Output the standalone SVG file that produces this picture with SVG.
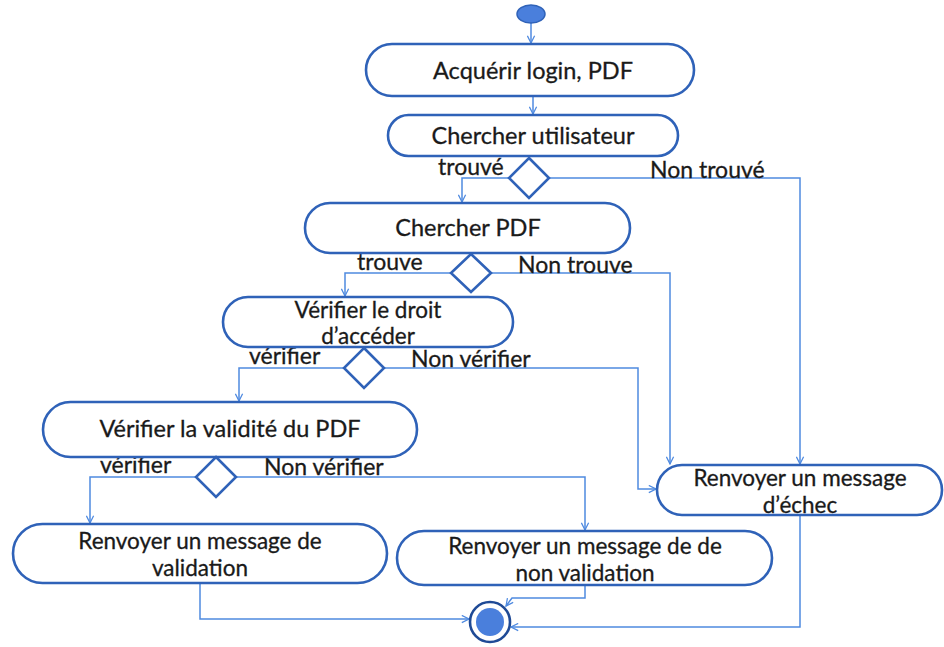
<svg xmlns="http://www.w3.org/2000/svg" width="944" height="647" viewBox="0 0 944 647">
  <style>
    .act { fill: #ffffff; stroke: #2f62b8; stroke-width: 2.6; }
    .dec { fill: #ffffff; stroke: #2f62b8; stroke-width: 2.6; }
    .lbl { font-family: Lato, "Open Sans", "Liberation Sans", sans-serif; font-size: 23.5px; fill: #1a1a1a; text-anchor: middle; stroke: #1a1a1a; stroke-width: 0.3; }
    .lbl2 { font-size: 22.5px; }
    .edge { font-family: Lato, "Open Sans", "Liberation Sans", sans-serif; font-size: 23px; fill: #1a1a1a; stroke: #1a1a1a; stroke-width: 0.3; }
    .flow { fill: none; stroke: #4f8ae0; stroke-width: 1.5; marker-end: url(#arr); }
  </style>
  <defs>
    <marker id="arr" viewBox="0 0 10 10" refX="9" refY="5" markerWidth="9" markerHeight="9" markerUnits="userSpaceOnUse" orient="auto">
      <path d="M1,1 L9,5 L1,9" fill="none" stroke="#4f8ae0" stroke-width="1.4"/>
    </marker>
  </defs>
  <rect width="944" height="647" fill="#ffffff"/>

  <!-- connectors -->
  <g id="connectors">
    <path class="flow" d="M531,23 V43"/>
    <path class="flow" d="M533,96 V114"/>
    <path class="flow" d="M509,178 H462 V202"/>
    <path class="flow" d="M549,178 H800 V464"/>
    <path class="flow" d="M451,273 H345 V296"/>
    <path class="flow" d="M491,273 H670 V464"/>
    <path class="flow" d="M344,368 H239 V401"/>
    <path class="flow" d="M384,368 H638 V489 H656"/>
    <path class="flow" d="M196,477 H90 V523"/>
    <path class="flow" d="M236,477 H585 V530"/>
    <path class="flow" d="M200,583 V619 H469"/>
    <path class="flow" d="M585,585 V598 H512 L506,606"/>
    <path class="flow" d="M800,515 V627 H511"/>
    <text class="edge" x="438" y="175">trouvé</text>
    <text class="edge" x="650" y="178">Non trouvé</text>
    <text class="edge" x="357" y="270">trouve</text>
    <text class="edge" x="518" y="273">Non trouve</text>
    <text class="edge" x="249" y="364">vérifier</text>
    <text class="edge" x="411" y="367">Non vérifier</text>
    <text class="edge" x="100" y="473">vérifier</text>
    <text class="edge" x="264" y="475">Non vérifier</text>
  </g>

  <g id="start">
    <ellipse cx="531" cy="14" rx="14" ry="9" fill="#4a7fdc" stroke="#2f62b8" stroke-width="1.5"/>
  </g>

  <g id="acquerir">
    <rect class="act" x="366" y="44" width="328" height="52" rx="26"/>
    <text class="lbl" x="533" y="79">Acquérir login, PDF</text>
  </g>

  <g id="chercher-utilisateur">
    <rect class="act" x="388" y="115" width="290" height="41" rx="20.5"/>
    <text class="lbl" x="533" y="144">Chercher utilisateur</text>
  </g>

  <g id="decision-utilisateur">
    <polygon class="dec" points="529,158 549,178 529,198 509,178"/>
  </g>

  <g id="chercher-pdf">
    <rect class="act" x="305" y="203" width="325" height="50" rx="25"/>
    <text class="lbl" x="468" y="236">Chercher PDF</text>
  </g>

  <g id="decision-pdf">
    <polygon class="dec" points="471,254 491,273 471,292 451,273"/>
  </g>

  <g id="verifier-droit">
    <rect class="act" x="223" y="297" width="290" height="50" rx="25"/>
    <text class="lbl lbl2" x="368" y="318">Vérifier le droit</text>
    <text class="lbl lbl2" x="368" y="344">d’accéder</text>
  </g>

  <g id="decision-droit">
    <polygon class="dec" points="364,348 384,368 364,388 344,368"/>
  </g>

  <g id="verifier-validite">
    <rect class="act" x="43" y="402" width="374" height="55" rx="27.5"/>
    <text class="lbl" x="230" y="437">Vérifier la validité du PDF</text>
  </g>

  <g id="decision-validite">
    <polygon class="dec" points="216,457 236,477 216,497 196,477"/>
  </g>

  <g id="message-validation">
    <rect class="act" x="13" y="524" width="374" height="59" rx="29.5"/>
    <text class="lbl lbl2" x="200" y="549">Renvoyer un message de</text>
    <text class="lbl lbl2" x="200" y="576">validation</text>
  </g>

  <g id="message-non-validation">
    <rect class="act" x="397" y="531" width="375" height="54" rx="27"/>
    <text class="lbl lbl2" x="585" y="554">Renvoyer un message de de</text>
    <text class="lbl lbl2" x="585" y="581">non validation</text>
  </g>

  <g id="message-echec">
    <rect class="act" x="657" y="465" width="285" height="50" rx="25"/>
    <text class="lbl lbl2" x="800" y="486">Renvoyer un message</text>
    <text class="lbl lbl2" x="800" y="513">d’échec</text>
  </g>

  <g id="fin">
    <circle cx="490" cy="622" r="20" fill="#ffffff" stroke="#1f4a96" stroke-width="2.6"/>
    <circle cx="490" cy="622" r="14" fill="#4a7fdc"/>
  </g>
</svg>
